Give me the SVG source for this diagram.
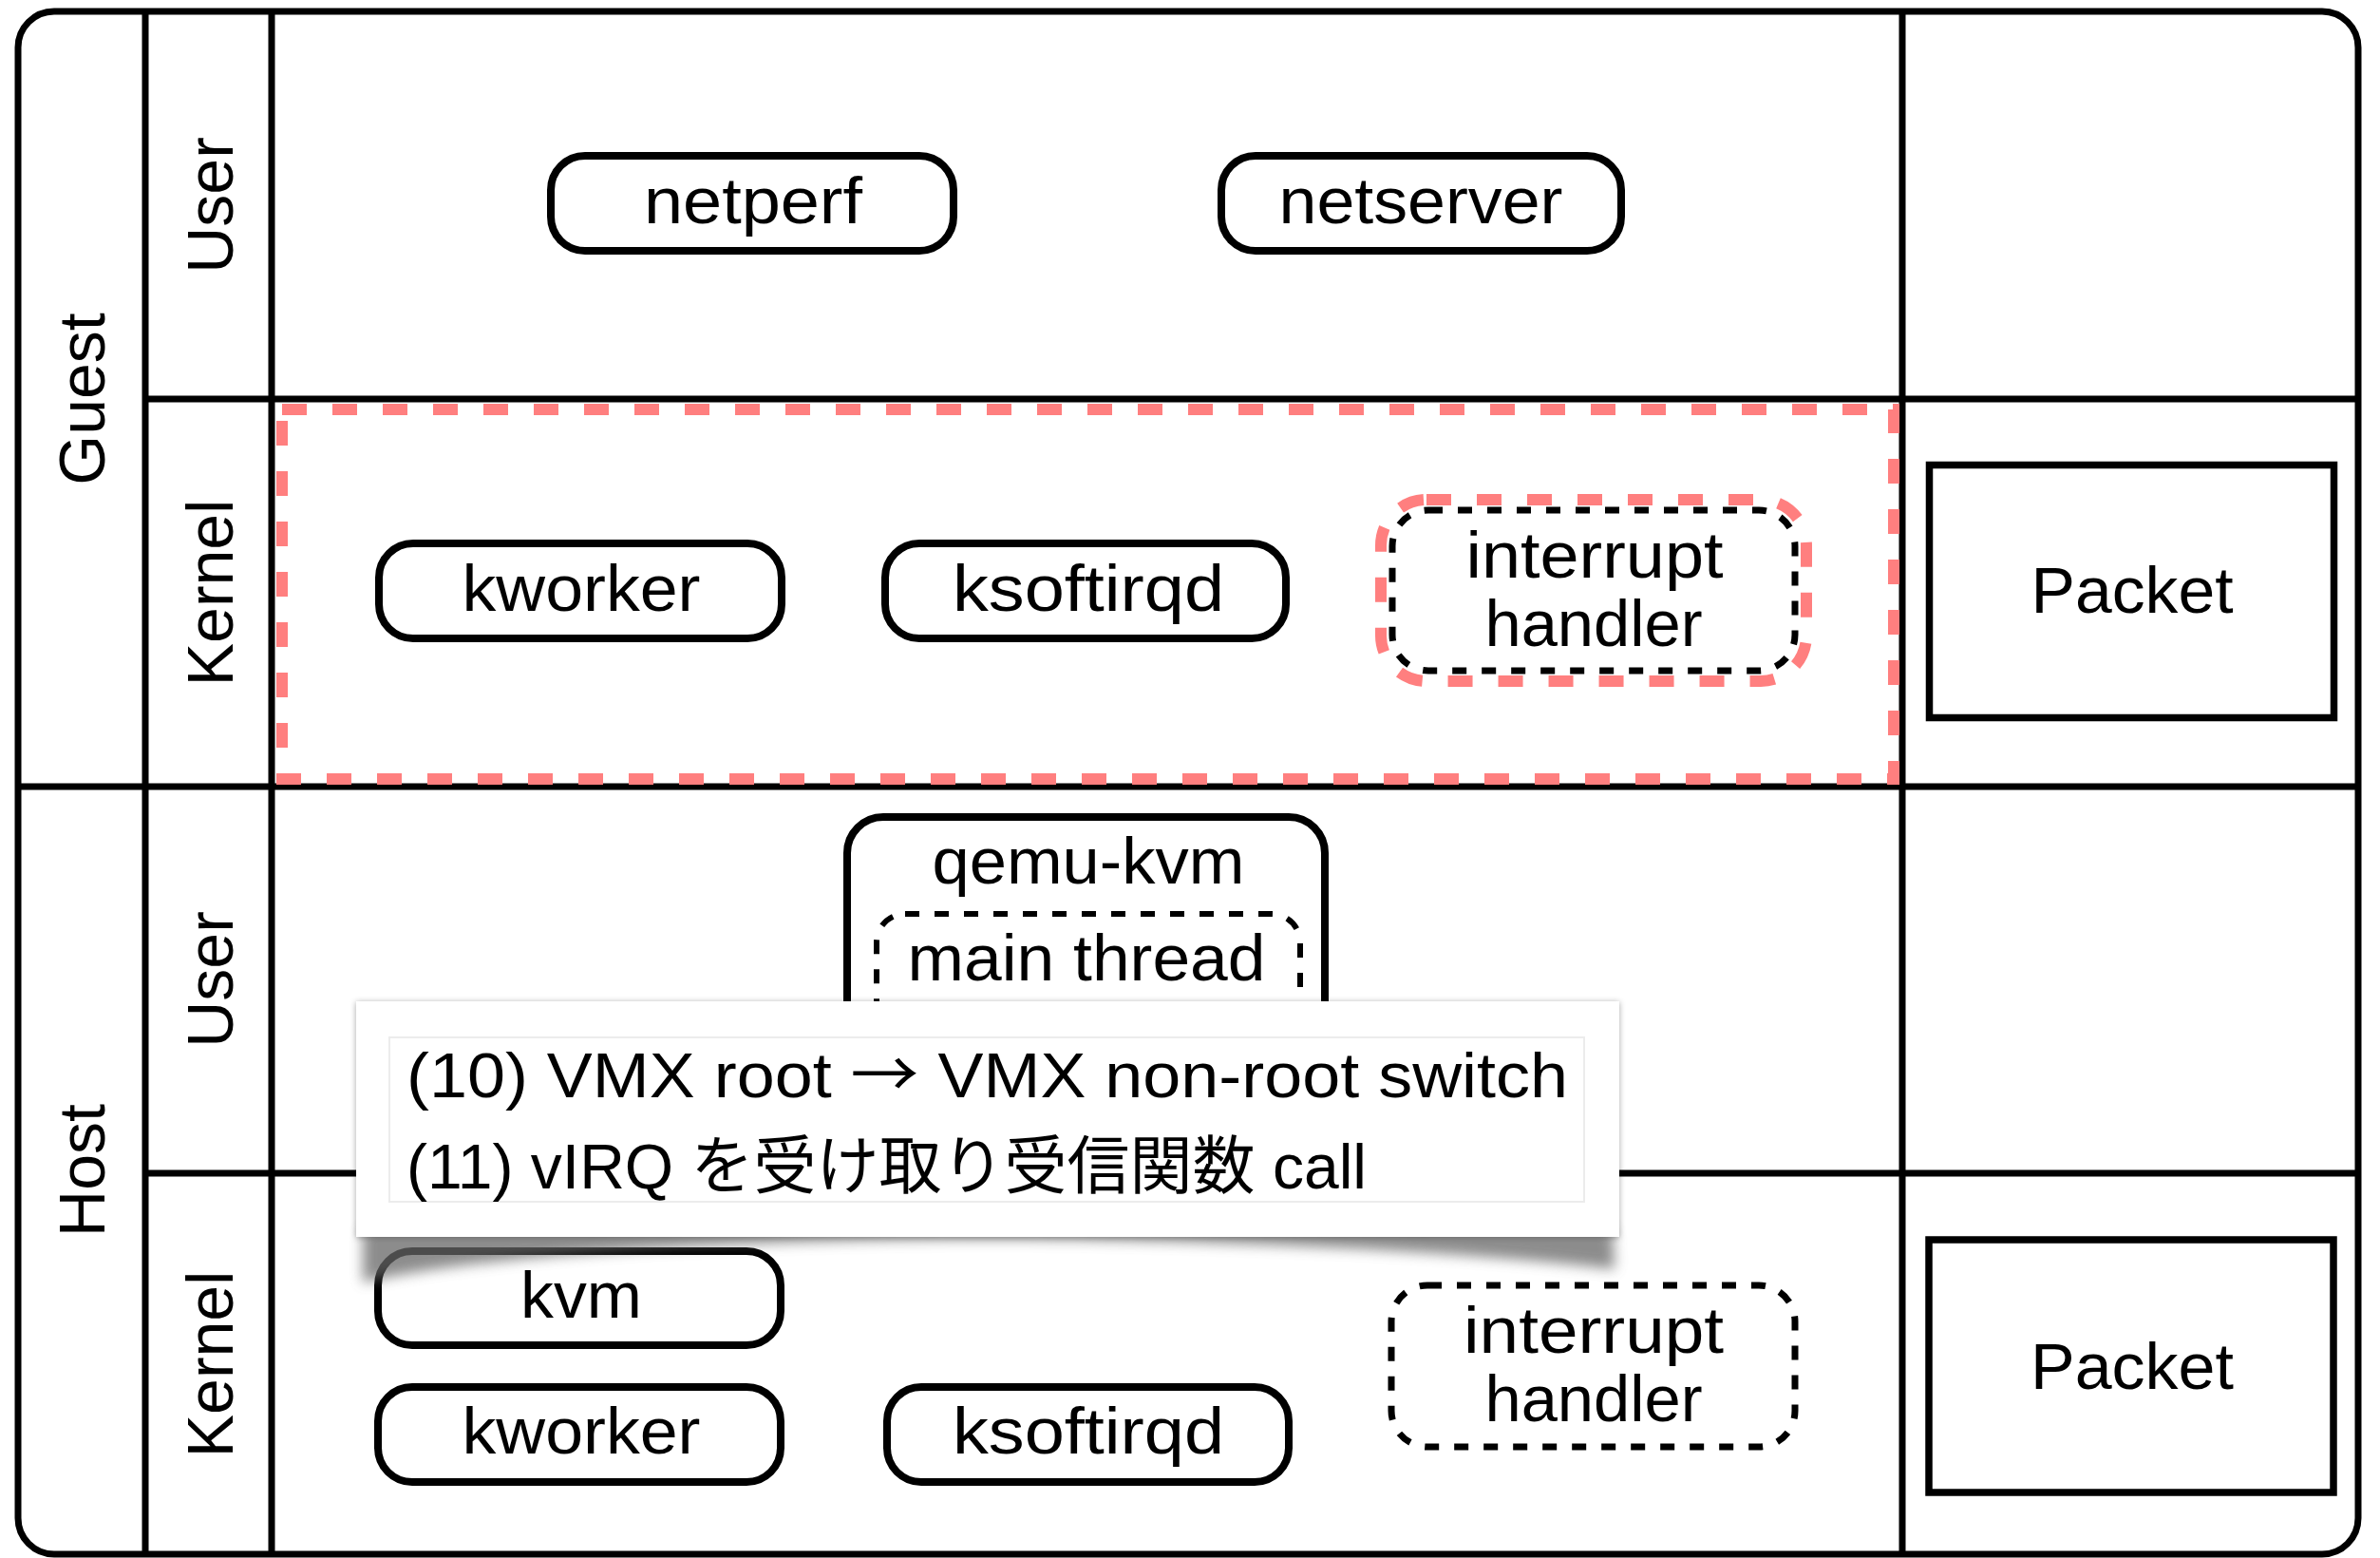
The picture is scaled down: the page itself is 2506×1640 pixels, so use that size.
<svg xmlns="http://www.w3.org/2000/svg" width="2506" height="1640" viewBox="0 0 2506 1640">
<style>
.lane{fill:none;stroke:#000;stroke-width:7}
.box{fill:#fff;stroke:#000;stroke-width:8}
.sq{fill:#fff;stroke:#000;stroke-width:7.5}
.dash{fill:#fff;stroke:#000;stroke-width:7;stroke-dasharray:15 16}
.red{fill:none;stroke:#FF7F7F;stroke-width:12;stroke-dasharray:26 27}
.t{font-family:"Liberation Sans","Noto Sans CJK JP",sans-serif;font-size:68px;fill:#000}
.c{text-anchor:middle}
</style>
<defs>
<filter id="blur" x="-10%" y="-100%" width="120%" height="300%"><feGaussianBlur stdDeviation="7"/></filter>
<filter id="edge" x="-5%" y="-10%" width="110%" height="120%"><feDropShadow dx="0" dy="1" stdDeviation="3" flood-color="#000" flood-opacity="0.35"/></filter>
</defs>
<rect width="2506" height="1640" fill="#fff"/>
<g id="frame">
<rect class="lane" x="19" y="12" width="2464" height="1624" rx="38"/>
<line class="lane" x1="153" y1="12" x2="153" y2="1636"/>
<line class="lane" x1="286" y1="12" x2="286" y2="1636"/>
<line class="lane" x1="2003" y1="12" x2="2003" y2="1636"/>
<line class="lane" x1="153" y1="420" x2="2483" y2="420"/>
<line class="lane" x1="19" y1="828" x2="2483" y2="828"/>
<line class="lane" x1="153" y1="1235" x2="2483" y2="1235"/>
<text class="t c" transform="translate(110,420) rotate(-90)">Guest</text>
<text class="t c" transform="translate(110,1232) rotate(-90)">Host</text>
<text class="t c" transform="translate(245,216) rotate(-90)">User</text>
<text class="t c" transform="translate(245,624) rotate(-90)">Kernel</text>
<text class="t c" transform="translate(245,1031) rotate(-90)">User</text>
<text class="t c" transform="translate(245,1436) rotate(-90)">Kernel</text>
</g>
<g id="guest-kernel-highlight">
<rect class="red" x="297" y="431" width="1697" height="389"/>
</g>
<g id="connectors"></g>
<g id="netperf">
<rect class="box" x="580" y="164" width="424" height="100" rx="36"/>
<text class="t c" x="793" y="235" textLength="230" lengthAdjust="spacingAndGlyphs">netperf</text>
</g>
<g id="netserver">
<rect class="box" x="1286" y="164" width="421" height="100" rx="36"/>
<text class="t c" x="1496" y="235" textLength="299" lengthAdjust="spacingAndGlyphs">netserver</text>
</g>
<g id="guest-kworker">
<rect class="box" x="399" y="572" width="424" height="100" rx="36"/>
<text class="t c" x="612" y="643" textLength="251" lengthAdjust="spacingAndGlyphs">kworker</text>
</g>
<g id="guest-ksoftirqd">
<rect class="box" x="932" y="572" width="422" height="100" rx="36"/>
<text class="t c" x="1146" y="643" textLength="286" lengthAdjust="spacingAndGlyphs">ksoftirqd</text>
</g>
<g id="guest-interrupt-handler">
<rect class="red" x="1454" y="526" width="448" height="191" rx="48"/>
<rect class="dash" x="1466" y="537" width="424" height="169" rx="38"/>
<text class="t c" x="1679" y="608" textLength="271" lengthAdjust="spacingAndGlyphs">interrupt</text>
<text class="t c" x="1678" y="680" textLength="229" lengthAdjust="spacingAndGlyphs">handler</text>
</g>
<g id="guest-packet">
<rect class="sq" x="2031.5" y="489.5" width="426" height="266"/>
<text class="t c" x="2245" y="645" textLength="213" lengthAdjust="spacingAndGlyphs">Packet</text>
</g>
<g id="qemu-kvm">
<rect class="box" x="892" y="860" width="503" height="270" rx="38"/>
<text class="t c" x="1146" y="930" textLength="329" lengthAdjust="spacingAndGlyphs">qemu-kvm</text>
</g>
<g id="main-thread">
<rect class="dash" x="923" y="962" width="446" height="121" rx="30" style="stroke-width:6"/>
<text class="t c" x="1144" y="1032" textLength="377" lengthAdjust="spacingAndGlyphs">main thread</text>
</g>
<g id="kvm">
<rect class="box" x="398" y="1317" width="424" height="99" rx="36"/>
<text class="t c" x="612" y="1387" textLength="128" lengthAdjust="spacingAndGlyphs">kvm</text>
</g>
<g id="host-kworker">
<rect class="box" x="398" y="1460" width="424" height="100" rx="36"/>
<text class="t c" x="612" y="1530" textLength="251" lengthAdjust="spacingAndGlyphs">kworker</text>
</g>
<g id="host-ksoftirqd">
<rect class="box" x="934" y="1460" width="423" height="100" rx="36"/>
<text class="t c" x="1146" y="1530" textLength="286" lengthAdjust="spacingAndGlyphs">ksoftirqd</text>
</g>
<g id="host-interrupt-handler">
<rect class="dash" x="1465" y="1353" width="425" height="170" rx="38"/>
<text class="t c" x="1678" y="1424" textLength="274" lengthAdjust="spacingAndGlyphs">interrupt</text>
<text class="t c" x="1678" y="1496" textLength="229" lengthAdjust="spacingAndGlyphs">handler</text>
</g>
<g id="host-packet">
<rect class="sq" x="2031" y="1305" width="426" height="266"/>
<text class="t c" x="2245" y="1462" textLength="214" lengthAdjust="spacingAndGlyphs">Packet</text>
</g>
<g id="callout">
<path d="M382 1294 L1698 1294 L1700 1336 C1520 1314 1230 1304 1040 1304 C800 1304 520 1318 382 1350 Z" fill="#666" opacity="0.75" filter="url(#blur)"/>
<rect x="375" y="1054" width="1330" height="248" fill="#fff" filter="url(#edge)"/>
<rect x="410" y="1092" width="1258" height="173" fill="none" stroke="#ececec" stroke-width="2"/>
<text class="t" x="428" y="1155" style="font-size:67px" textLength="1223" lengthAdjust="spacingAndGlyphs">(10) VMX root <tspan style="font-family:'Noto Sans CJK JP','DejaVu Sans',sans-serif">→</tspan> VMX non-root switch</text>
<text class="t" x="428" y="1251" style="font-size:67px" textLength="1011" lengthAdjust="spacingAndGlyphs">(11) vIRQ を受け取り受信関数 call</text>
</g>
</svg>
